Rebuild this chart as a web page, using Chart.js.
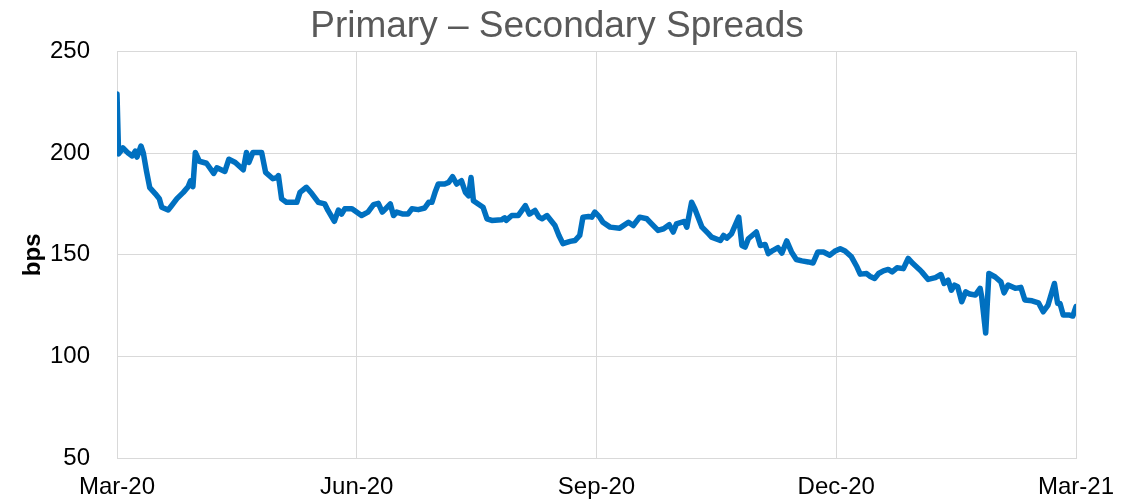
<!DOCTYPE html>
<html>
<head>
<meta charset="utf-8">
<script src="https://cdn.jsdelivr.net/npm/chart.js@4"></script>
<style>
  html, body { margin: 0; padding: 0; background: #ffffff; }
  #wrap { width: 1139px; height: 502px; position: relative; }
</style>
</head>
<body>
<div id="wrap"><canvas id="c"></canvas></div>
<script>
// Months since Mar-20 (x) and spread in bps (y)
const months = [
  0, 0.02, 0.075, 0.14, 0.19, 0.23, 0.25, 0.30, 0.33, 0.37, 0.41, 0.48, 0.53, 0.56, 0.64, 0.68, 0.75, 0.83, 0.89, 0.92,
  0.95, 0.98, 1.03, 1.12, 1.16, 1.21, 1.25, 1.35, 1.40, 1.48, 1.58, 1.62, 1.65, 1.70, 1.81, 1.86, 1.95, 2.00, 2.02, 2.06,
  2.12, 2.25, 2.29, 2.37, 2.44, 2.52, 2.60, 2.64, 2.72, 2.77, 2.81, 2.85, 2.94, 3.06, 3.14, 3.21, 3.27, 3.32, 3.42, 3.46,
  3.50, 3.58, 3.64, 3.69, 3.77, 3.85, 3.90, 3.94, 3.98, 4.02, 4.10, 4.15, 4.20, 4.25, 4.31, 4.36, 4.40, 4.43, 4.46, 4.52,
  4.58, 4.63, 4.69, 4.81, 4.85, 4.87, 4.94, 5.02, 5.11, 5.16, 5.23, 5.28, 5.32, 5.38, 5.48, 5.53, 5.58, 5.67, 5.73, 5.79,
  5.83, 5.90, 5.94, 5.98, 6.04, 6.08, 6.17, 6.29, 6.40, 6.46, 6.54, 6.63, 6.69, 6.77, 6.84, 6.91, 6.96, 7.00, 7.10, 7.13,
  7.19, 7.23, 7.32, 7.40, 7.44, 7.55, 7.59, 7.63, 7.69, 7.78, 7.82, 7.86, 7.90, 8.00, 8.05, 8.11, 8.15, 8.21, 8.27, 8.32,
  8.38, 8.44, 8.50, 8.57, 8.65, 8.71, 8.77, 8.84, 8.92, 8.98, 9.05, 9.11, 9.19, 9.26, 9.30, 9.38, 9.42, 9.48, 9.53, 9.59,
  9.65, 9.70, 9.76, 9.84, 9.90, 9.96, 10.04, 10.07, 10.15, 10.24, 10.31, 10.35, 10.40, 10.44, 10.48, 10.52, 10.57, 10.62, 10.67, 10.74,
  10.80, 10.82, 10.87, 10.91, 10.99, 11.06, 11.10, 11.15, 11.24, 11.31, 11.36, 11.45, 11.53, 11.59, 11.65, 11.73, 11.77, 11.80, 11.84, 11.92,
  11.96, 12.00
];
const spreads = [
  229, 199.6, 202.5, 200, 198.6, 201, 198, 203.5, 200, 191, 183, 180, 177.6, 173.4, 172, 174, 177.6, 180.7, 183.5, 186.4,
  183.5, 200.3, 196, 195, 192.8, 190, 192.8, 191, 197, 195.4, 191.8, 200.3, 195.4, 200.3, 200.3, 190.5, 187.4, 188, 188.9, 177.5,
  175.8, 175.8, 180.7, 183.2, 180, 175.8, 175, 171.8, 166.5, 172, 170, 172.6, 172.6, 169.3, 171, 174.7, 175.3, 171, 175, 169.3,
  171, 170, 170, 172.6, 172.2, 173, 175.8, 175.8, 180.7, 184.8, 184.8, 185.6, 188.4, 184.8, 186.4, 180.7, 179, 188, 176.6, 175,
  173.4, 167.7, 166.9, 167.2, 168.2, 166.9, 169.3, 169.3, 174.2, 170, 171.8, 168.5, 167.7, 169.3, 164.4, 159.5, 155.5, 156.6, 157, 159.5,
  168.5, 168.8, 168.5, 171, 168.5, 166, 163.6, 163.1, 166, 164.4, 168.5, 167.7, 165.2, 162, 162.8, 164.8, 161.2, 165.2, 166.4, 163.6,
  175.8, 172.6, 163.6, 160.4, 158.7, 157, 159.5, 158.2, 160.4, 168.5, 154.6, 153.8, 157.9, 161.2, 154.6, 155.1, 150.6, 152.2, 153.5, 150.9,
  156.8, 151.4, 147.7, 147, 146.5, 146, 151.4, 151.4, 149.8, 151.7, 153, 151.9, 149, 144, 140.5, 140.8, 139.5, 138.4, 140.8, 142.1,
  142.8, 141.6, 143.6, 143.2, 148.2, 145.7, 142.8, 141.6, 137.9, 138.8, 140.3, 135.9, 137.5, 132.6, 135.1, 134.3, 126.9, 131.8, 130.7, 130.2,
  133.5, 129.4, 111.5, 140.8, 139.1, 136.7, 131.3, 135.1, 133.5, 134, 127.8, 127.4, 126.4, 122, 125.3, 135.9, 126.1, 126.1, 120.4, 120.4,
  119.9, 124.5
];
const xTickLabels = ['Mar-20', 'Jun-20', 'Sep-20', 'Dec-20', 'Mar-21'];
const xTickValues = [0, 3, 6, 9, 12];
const yTickValues = [50, 100, 150, 200, 250];

const points = months.map((m, i) => ({ x: m, y: spreads[i] }));
const FONT = 'Liberation Sans, Arial, sans-serif';

new Chart(document.getElementById('c'), {
  type: 'line',
  data: {
    datasets: [{
      label: 'Primary – Secondary Spreads',
      data: points,
      borderColor: '#0070C0',
      backgroundColor: '#0070C0',
      borderWidth: 5.5,
      pointRadius: 0,
      tension: 0,
      borderJoinStyle: 'round',
      borderCapStyle: 'round'
    }]
  },
  options: {
    responsive: true,
    maintainAspectRatio: false,
    animation: false,
    layout: { padding: { left: 13, right: 38, top: 5, bottom: -15 } },
    plugins: {
      legend: { display: false },
      tooltip: { enabled: false },
      title: {
        display: true,
        text: 'Primary – Secondary Spreads',
        color: '#595959',
        font: { family: FONT, size: 37, weight: 'normal' },
        padding: { top: 0, bottom: 2 }
      }
    },
    scales: {
      x: {
        type: 'linear',
        min: 0,
        max: 12,
        afterBuildTicks: (axis) => { axis.ticks = xTickValues.map(v => ({ value: v })); },
        afterFit: (axis) => { axis.paddingRight = 63; },
        ticks: {
          callback: (v) => { const i = xTickValues.indexOf(v); return i >= 0 ? xTickLabels[i] : ''; },
          color: '#000000',
          font: { family: FONT, size: 24 },
          padding: 15,
          maxRotation: 0,
          autoSkip: false
        },
        grid: { color: '#d9d9d9', lineWidth: 1, drawTicks: false },
        border: { color: '#d9d9d9' }
      },
      y: {
        min: 50,
        max: 250,
        afterBuildTicks: (axis) => { axis.ticks = yTickValues.map(v => ({ value: v })); },
        afterFit: (axis) => { axis.width = 104; },
        ticks: {
          color: '#000000',
          font: { family: FONT, size: 24 },
          padding: 27
        },
        title: {
          display: true,
          text: 'bps',
          color: '#000000',
          font: { family: FONT, size: 24, weight: 'bold' },
          padding: { top: 6, bottom: 0 }
        },
        grid: { color: '#d9d9d9', lineWidth: 1, drawTicks: false },
        border: { color: '#d9d9d9' }
      }
    }
  }
});
</script>
</body>
</html>
